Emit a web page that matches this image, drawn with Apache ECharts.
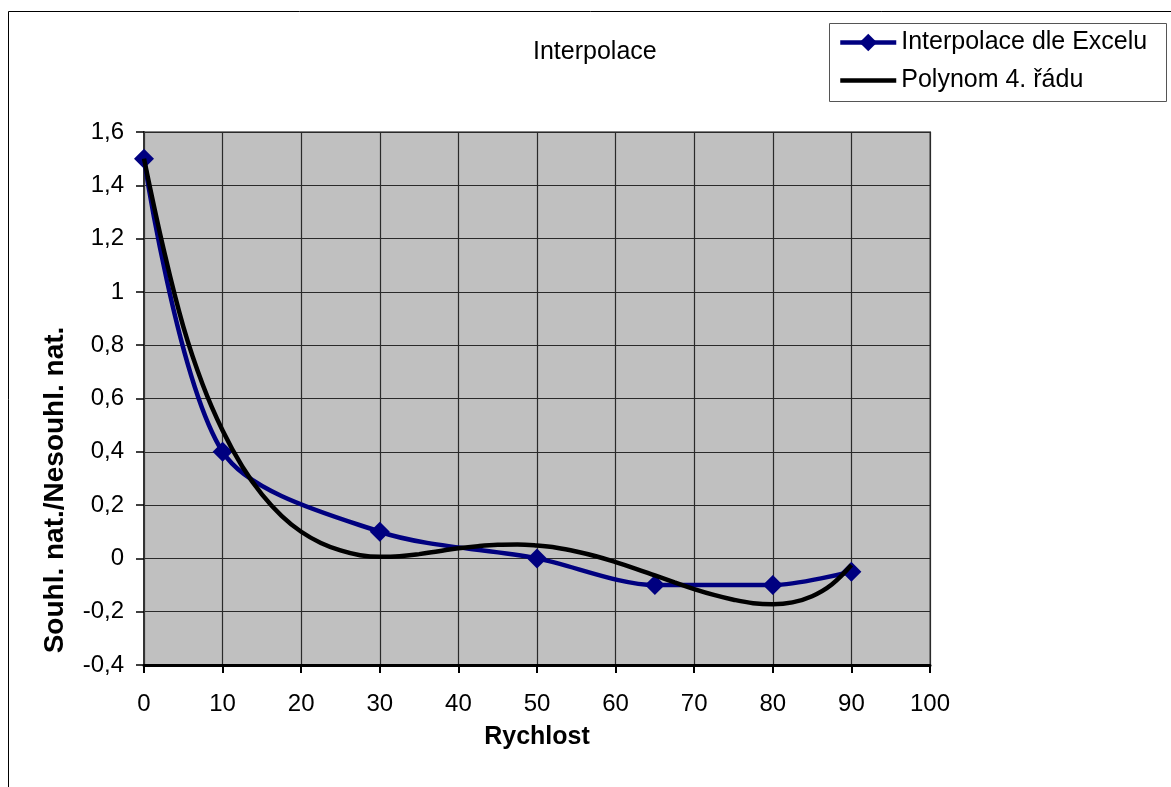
<!DOCTYPE html>
<html>
<head>
<meta charset="utf-8">
<script src="https://cdn.jsdelivr.net/npm/echarts@6/dist/echarts.min.js"></script>
<style>
html,body{margin:0;padding:0;background:#fff;}
#c{width:1171px;height:787px;}
</style>
</head>
<body>
<div id="c"></div>
<script>
var titleText = 'Interpolace';
var xName = 'Rychlost';
var yName = 'Souhl. nat./Nesouhl. nat.';
var seriesNames = ['Interpolace dle Excelu', 'Polynom 4. řádu'];

// Measured points (blue series)
var excelX = [0, 10, 30, 50, 65, 80, 90];
var excelY = [1.5, 0.4, 0.1, 0, -0.1, -0.1, -0.05];

// Polynomial trend line
var polyX = [0, 2.5, 5, 7.5, 10, 12.5, 15, 17.5, 20, 22.5, 25, 27.5, 30, 32.5, 35, 37.5, 40, 42.5, 45, 47.5, 50, 52.5, 55, 57.5, 60, 62.5, 65, 67.5, 70, 72.5, 75, 77.5, 80, 82.5, 85, 87.5, 90];
var polyY = [1.5, 1.16, 0.87, 0.65, 0.48, 0.345, 0.24, 0.16, 0.1, 0.058, 0.03, 0.012, 0.006, 0.008, 0.016, 0.027, 0.038, 0.046, 0.051, 0.052, 0.048, 0.04, 0.026, 0.008, -0.014, -0.038, -0.064, -0.09, -0.115, -0.137, -0.155, -0.168, -0.172, -0.165, -0.142, -0.098, -0.025];

var FONT = '"Liberation Sans", Arial, sans-serif';

function zip(a, b) { return a.map(function (v, i) { return [v, b[i]]; }); }

var chart = echarts.init(document.getElementById('c'), null, {renderer: 'canvas'});
chart.setOption({
  animation: false,
  backgroundColor: '#ffffff',
  textStyle: {fontFamily: FONT},
  title: {
    text: titleText,
    left: 533,
    top: 40,
    padding: 0,
    textStyle: {fontFamily: FONT, fontSize: 25, fontWeight: 'normal', color: '#000'}
  },
  graphic: [
    {type: 'rect', z: -10, silent: true,
     shape: {x: 8.5, y: 11.5, width: 1200, height: 800},
     style: {fill: 'none', stroke: '#000', lineWidth: 1}},
    {type: 'rect', z: 1, silent: true,
     shape: {x: 829.5, y: 23.5, width: 337, height: 78},
     style: {fill: '#fff', stroke: '#555', lineWidth: 1}},
    {type: 'text', silent: true, x: 55, y: 490, rotation: Math.PI / 2,
     style: {text: yName, fill: '#000', font: 'bold 28px ' + FONT, textAlign: 'center', textVerticalAlign: 'middle'}}
  ],
  legend: {
    orient: 'vertical',
    left: 838,
    top: 30,
    padding: 0,
    itemWidth: 56,
    itemHeight: 22,
    itemGap: 13,
    z: 5,
    lineStyle: {width: 4.5},
    textStyle: {fontFamily: FONT, fontSize: 25, color: '#000', lineHeight: 25},
    data: [
      {name: seriesNames[0]},
      {name: seriesNames[1], icon: 'path://M0,0H56V4.5H0Z', itemStyle: {color: '#000'}}
    ]
  },
  grid: {
    left: 144, top: 132, right: 241, bottom: 122,
    show: true,
    backgroundColor: '#C0C0C0',
    borderColor: '#808080',
    borderWidth: 2
  },
  xAxis: {
    type: 'value',
    min: 0, max: 100, interval: 10,
    name: xName,
    nameLocation: 'middle',
    nameGap: 60,
    nameTextStyle: {fontFamily: FONT, fontSize: 25, fontWeight: 'bold', color: '#000'},
    axisLine: {show: true, onZero: false, lineStyle: {color: '#000', width: 3}},
    axisTick: {show: true, inside: false, length: 8, lineStyle: {color: '#000', width: 2}},
    axisLabel: {fontFamily: FONT, fontSize: 24, color: '#000', margin: 27},
    splitLine: {show: true, lineStyle: {color: '#2a2a2a', width: 1.2}}
  },
  yAxis: {
    type: 'value',
    min: -0.4, max: 1.6, interval: 0.2,
    axisLine: {show: true, onZero: false, lineStyle: {color: '#333', width: 2}},
    axisTick: {show: true, inside: false, length: 8, lineStyle: {color: '#000', width: 1.5}},
    axisLabel: {
      fontFamily: FONT, fontSize: 24, color: '#000', margin: 20,
      formatter: function (v) { return String(Math.round(v * 10) / 10).replace('.', ','); }
    },
    splitLine: {show: true, lineStyle: {color: '#2a2a2a', width: 1.2}}
  },
  series: [
    {
      name: seriesNames[0],
      type: 'line',
      data: zip(excelX, excelY),
      smooth: 0.3,
      symbol: 'diamond',
      symbolSize: 20,
      itemStyle: {color: '#000080'},
      lineStyle: {color: '#000080', width: 4.5},
      z: 2
    },
    {
      name: seriesNames[1],
      type: 'line',
      data: zip(polyX, polyY),
      smooth: 0.4,
      showSymbol: false,
      symbol: 'none',
      itemStyle: {color: '#000'},
      lineStyle: {color: '#000', width: 4.5},
      z: 3
    }
  ]
});
</script>
</body>
</html>
